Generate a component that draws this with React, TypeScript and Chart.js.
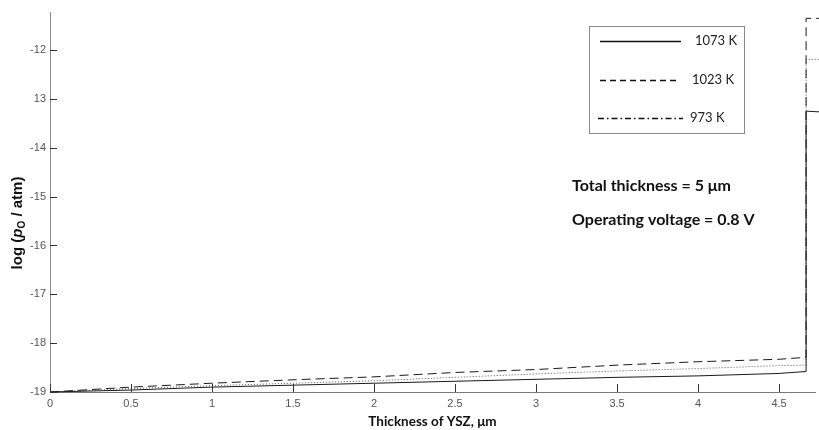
import React, { useEffect, useRef } from 'react';
import { Chart, registerables } from 'chart.js';

Chart.register(...registerables);

// ---- data ----
const thickness = [0, 0.5, 1, 1.5, 2, 2.5, 3, 3.5, 4, 4.5, 4.667, 4.667, 4.78];
const logPO_1073 = [-19, -18.96, -18.9, -18.86, -18.82, -18.78, -18.74, -18.7, -18.67, -18.62, -18.58, -13.25, -13.27];
const logPO_1023 = [-19, -18.9, -18.82, -18.75, -18.69, -18.6, -18.54, -18.45, -18.38, -18.33, -18.29, -11.35, -11.35];
const logPO_973 = [-19, -18.93, -18.87, -18.82, -18.77, -18.7, -18.63, -18.57, -18.52, -18.46, -18.45, -12.19, -12.19];
const seriesLabels = ['1073 K', '1023 K', '973 K'];
const yTickValues = [-19, -18, -17, -16, -15, -14, -13, -12];
const yTickLabels = ['-19', '-18', '-17', '-16', '-15', '-14', '13', '-12'];
const xTickValues = [0, 0.5, 1, 1.5, 2, 2.5, 3, 3.5, 4, 4.5];
const xTickLabels = ['0', '0.5', '1', '1.5', '2', '2.5', '3', '3.5', '4', '4.5'];
const notes = ['Total thickness = 5 μm', 'Operating voltage = 0.8 V'];
const xTitle = 'Thickness of YSZ, μm';

const plotDash = [[], [9, 5], [1, 2]];
const legendDash = [[], [6, 4], [6, 3, 1.5, 3]];
const lineColors = ['#1a1a1a', '#1a1a1a', '#555555'];

const findLabel = (vals: number[], labels: string[], v: number) => {
  const i = vals.findIndex((a) => Math.abs(a - v) < 1e-6);
  return i >= 0 ? labels[i] : '';
};

const decorPlugin = {
  id: 'decor',
  afterDraw(chart: any) {
    const ctx = chart.ctx as CanvasRenderingContext2D;
    const ca = chart.chartArea;
    const xs = chart.scales.x;
    const ys = chart.scales.y;
    ctx.save();

    // inward tick marks
    ctx.strokeStyle = '#333';
    ctx.lineWidth = 1;
    ctx.beginPath();
    yTickValues.forEach((v) => {
      const p = Math.round(ys.getPixelForValue(v)) + 0.5;
      ctx.moveTo(ca.left, p);
      ctx.lineTo(ca.left + 7, p);
    });
    xTickValues.forEach((v) => {
      const p = Math.round(xs.getPixelForValue(v)) + 0.5;
      ctx.moveTo(p, ca.bottom);
      ctx.lineTo(p, ca.bottom - 8);
    });
    ctx.stroke();

    // y axis title with italic p and subscript O
    ctx.save();
    ctx.translate(18, 223);
    ctx.rotate(-Math.PI / 2);
    ctx.fillStyle = '#111';
    ctx.textBaseline = 'middle';
    const segs = [
      { t: 'log (', f: 'bold 15px "Liberation Sans", Arial, sans-serif', dy: 0 },
      { t: 'p', f: 'italic bold 15px "Liberation Sans", Arial, sans-serif', dy: 0 },
      { t: 'O', f: 'bold 10px "Liberation Sans", Arial, sans-serif', dy: 4 },
      { t: ' / atm)', f: 'bold 15px "Liberation Sans", Arial, sans-serif', dy: 0 },
    ];
    let total = 0;
    segs.forEach((s) => {
      ctx.font = s.f;
      total += ctx.measureText(s.t).width;
    });
    let cx = -total / 2;
    segs.forEach((s) => {
      ctx.font = s.f;
      ctx.fillText(s.t, cx, s.dy);
      cx += ctx.measureText(s.t).width;
    });
    ctx.restore();

    // legend box
    const bx = ca.right - 226;
    const by = ca.top + 14;
    const bw = 155;
    const bh = 107;
    ctx.strokeStyle = '#8a8a8a';
    ctx.lineWidth = 1;
    ctx.strokeRect(bx + 0.5, by + 0.5, bw, bh);
    const rowY = [by + 15, by + 54, by + 92];
    const lineX0 = [bx + 11, bx + 11, bx + 9];
    const lineX1 = [bx + 92, bx + 89, bx + 94];
    const textX = [bx + 106, bx + 103, bx + 101];
    chart.data.datasets.forEach((ds: any, i: number) => {
      ctx.beginPath();
      ctx.setLineDash(legendDash[i]);
      ctx.strokeStyle = '#111';
      ctx.lineWidth = 1.5;
      ctx.moveTo(lineX0[i], rowY[i] + 0.5);
      ctx.lineTo(lineX1[i], rowY[i] + 0.5);
      ctx.stroke();
      ctx.setLineDash([]);
      ctx.fillStyle = '#222';
      ctx.font = '13px Lato, "Open Sans", sans-serif';
      ctx.textBaseline = 'middle';
      ctx.textAlign = 'left';
      ctx.fillText(ds.label, textX[i], rowY[i]);
    });

    // annotations
    ctx.fillStyle = '#111';
    ctx.font = 'bold 16px Lato, "Open Sans", sans-serif';
    ctx.textBaseline = 'middle';
    ctx.textAlign = 'left';
    ctx.fillText(notes[0], ca.right - 243, ca.top + 174);
    ctx.fillText(notes[1], ca.right - 243, ca.top + 208);

    ctx.restore();
  },
};

export default function App() {
  const ref = useRef<HTMLCanvasElement | null>(null);
  useEffect(() => {
    document.body.style.margin = '0';
    const canvas = ref.current;
    if (!canvas) return;
    const mk = (arr: number[]) => thickness.map((x, i) => ({ x, y: arr[i] }));
    const chart = new Chart(canvas, {
      type: 'line',
      data: {
        datasets: [logPO_1073, logPO_1023, logPO_973].map((arr, i) => ({
          label: seriesLabels[i],
          data: mk(arr),
          borderColor: lineColors[i],
          borderWidth: 1,
          borderDash: plotDash[i],
          pointRadius: 0,
          tension: 0,
          fill: false,
          clip: false as any,
        })),
      },
      options: {
        responsive: false,
        animation: false,
        devicePixelRatio: 1,
        layout: { padding: { top: 12, right: 4, left: 0, bottom: 0 } },
        plugins: { legend: { display: false }, tooltip: { enabled: false } },
        scales: {
          x: {
            type: 'linear',
            min: 0,
            max: 4.722,
            afterFit: (s: any) => {
              s.height = 38;
            },
            ticks: {
              stepSize: 0.5,
              includeBounds: false,
              autoSkip: false,
              maxRotation: 0,
              padding: 5,
              color: '#555',
              font: { family: 'Arial, "Liberation Sans", sans-serif', size: 11 },
              callback: (v: any) => findLabel(xTickValues, xTickLabels, Number(v)),
            },
            grid: { display: true, drawOnChartArea: false, drawTicks: false },
            border: { display: true, color: '#7a7a7a', width: 1 },
            title: {
              display: true,
              text: xTitle,
              color: '#111',
              font: { family: 'Lato, "Open Sans", sans-serif', size: 13.5, weight: 'bold' },
              padding: { top: 0, bottom: 0 },
            },
          },
          y: {
            type: 'linear',
            min: -19,
            max: -11.22,
            afterFit: (s: any) => {
              s.width = 50;
            },
            ticks: {
              stepSize: 1,
              includeBounds: false,
              autoSkip: false,
              padding: 4,
              color: '#555',
              font: { family: 'Arial, "Liberation Sans", sans-serif', size: 11 },
              callback: (v: any) => findLabel(yTickValues, yTickLabels, Number(v)),
            },
            grid: { display: true, drawOnChartArea: false, drawTicks: false },
            border: { display: true, color: '#8a8a8a', width: 1 },
          },
        },
      },
      plugins: [decorPlugin],
    } as any);
    return () => chart.destroy();
  }, []);
  return (
    <div style={{ width: 819, height: 430, background: '#fff' }}>
      <canvas ref={ref} width={819} height={430} style={{ display: 'block' }} />
    </div>
  );
}
